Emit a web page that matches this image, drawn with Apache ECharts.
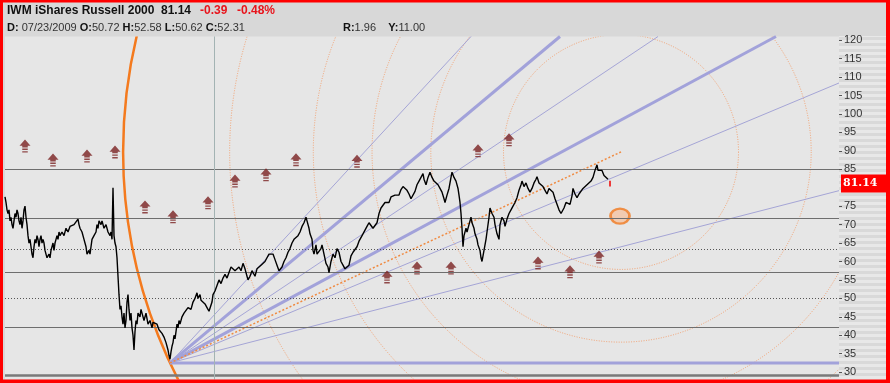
<!DOCTYPE html>
<html><head><meta charset="utf-8">
<script src="https://cdn.jsdelivr.net/npm/echarts@6/dist/echarts.min.js"></script>
<style>html,body{margin:0;padding:0;background:#fff}#c{width:890px;height:383px}</style>
</head><body><div id="c"></div><script>
// ---- data (x = bar index, y = price) ----
const price = [[0,77.5],[1,76],[2,74],[3,73],[4,74],[5,71],[6,72],[7,70],[8,69],[9,71],[10,73],[11,72],[12,74],[13,73],[14,71],[15,70],[16,72],[17,69],[18,71],[19,74],[20,75],[21,72],[22,70],[23,67],[24,65],[25,66],[26,64],[27,62],[28,61],[29,64],[30,66],[31,65],[32,67],[33,66],[34,64],[35,66],[36,67],[37,65],[38,66],[39,65],[40,63],[41,62],[42,61],[43,60.5],[44,62],[45,61],[46,63],[47,64],[48,65],[49,63],[50,65],[51,66],[52,67],[53,66],[54,68],[55,67],[57,68],[59,67],[61,69],[63,68],[65,69.5],[67,69],[69,70],[71,70.5],[73,71.5],[74,70],[75,69],[77,68],[79,66],[81,64],[82,62],[83,61.5],[84,63],[85,62],[86,64],[87,66],[89,67],[91,68],[92,70],[93,69],[94,71],[95,71.5],[96,70],[97,71],[99,69],[101,70],[103,68],[105,67],[106,68],[107,66],[108,80],[109,67],[110,65],[111,64],[112,61],
[113,56],[114,51],[115,47],[116,48],[117,45],[118,43],[119,46],[120,42],[121,44],[122,49],[123,51],[124,47],[125,44],[126,46],[127,42],[128,40],[129,36],[130,41],[131,44],[132,43],[133,46],[135,45],[136,47],[137,46],[139,44],[141,46],[142,44.5],[143,43],[145,44],[147,42],[148,43.5],[150,44],[152,43],[154,41.5],[156,42],[157,40.5],[159,39.5],[161,38],[162,37],[163,36],[164,34.5],[165,33.5],[166,35.5],[167,37],
[168,38],[169,40],[170,39],[171,41],[172,43],[173,42],[174,44],[175,43],[177,45],[179,46],[181,45.5],[183,47.5],[185,48],[186,47],[188,49],[190,50],[192,51.5],[193,50],[195,51],[196,49.5],[198,49],[200,48.5],[202,47.5],[204,46.5],[205,47],[207,49],[208,51],[210,52],[212,53.5],[214,55],[216,54],[218,55.5],[220,56.5],[222,55.5],[224,57],[226,58.5],[228,59],[230,57.5],[232,58],[234,58.5],[236,57.5],[238,59.5],[240,58],[242,56],[243,55],[245,56],[247,57.5],
[248,57],[250,56],[252,58],[254,57.5],[256,59],[258,58.5],[260,60],[262,61],[264,62],[266,61.5],[268,62],[270,60.5],[272,59],[274,57.5],[275,57],[277,58.5],[279,60],[281,61],[283,62.5],[285,63.5],[287,65],[289,66],[291,65.5],[293,67],[295,68],[297,69.5],[299,70.5],[301,72],[302,71],[304,69],[305,67.5],[307,66],[308,63],[309,62],[311,64.5],[312,62],[314,61.5],[316,63.5],[317,64.5],[319,62],[321,59.5],[323,58.5],[324,57],[326,60],[328,62],[330,61],[332,63.5],[334,62.5],[336,60],[338,59],[340,58],[342,57.5],[344,59],[346,61.5],[348,62.5],[350,63],[352,64],[354,65.5],[356,66],[358,67.5],[360,68],[362,69.5],[364,70.5],[366,70],[368,69],[370,68.5],[372,70.5],[374,73],[376,74.5],[378,75],[380,76],[382,76.5],[384,76],[386,77.5],[388,77],[390,78],[392,78.5],[394,78],[396,79.5],[398,80.3],[400,79.8],[402,79.3],[404,78.3],[406,77],[408,76.5],[410,79],[412,80.8],[414,81.8],[416,82.8],[418,83.8],[419,82.3],[421,80.8],[423,82.8],[425,84.2],[427,82.8],[429,81.8],[431,82.3],[433,80.8],[435,79.8],[437,78.8],[439,77],[440,76],[442,78],[444,79.8],[446,82.8],[447,84.2],[449,82.8],[451,81.8],[453,79.8],[454,78],[455,76],[456,73],[457,69],[458,64],[459,67],[461,69],[462,68],[464,70],[466,72],[467,70.5],[469,69],[470,67.5],[472,66],[473,64.5],[475,63],[476,61],[477,60],[479,63],[481,66],[482,68],[484,72],[485,74.5],[487,73],[489,72],[490,70],[492,67.5],[494,66],[495,70],[497,72],[499,71],[500,69.5],[502,71.5],[504,73],[506,74],[508,75],[510,76],[512,77.3],[514,79.3],[516,80.8],[517,81.8],[519,80.3],[521,81.3],[523,79.8],[525,78.8],[527,79.8],[529,81.3],[531,82.3],[532,83],[534,81.3],[536,81.8],[538,80.3],[540,79.3],[542,78.3],[544,79.8],[546,80.3],[548,78.8],[550,77],[552,75.5],[554,74],[556,73],[557,72.5],[559,74.5],[561,76],[563,76.3],[565,75.5],[567,77.8],[568,79.8],[570,78.3],[572,77.3],[574,78.3],[576,78.8],[578,79.8],[580,80.3],[582,80.8],[584,80.3],[586,81.8],[588,82.8],[590,84.7],[592,86.2],[593,84.7],[595,84.2],[597,84.7],[599,83.3],[601,83.3],[603,82.3]];
const lastBar = [[605,81.9],[605,80.3]];
const lastPrice = 81.14;
const yTicks = [30,35,40,45,50,55,60,65,70,75,85,90,95,100,105,110,115,120];
const levels = [85, 71.7, 63.3, 57.1, 50.0, 42.2, 29.1];
const levelKinds = ['solid','solid','dotted','solid','dotted','solid','heavy'];
const lowPoint = [165, 32.5];
const fanEnds = [[466,121],[555,121],[653,121],[771,121],[834,108.4],[834,79.2],[834,32.5]];
const fanHeavy = [false,true,false,true,false,false,true];
const circleCenter = [616, 89.7];
const fibRatios = [0.236,0.382,0.5,0.618,0.786,1];
const arrows = [[20,91.3],[48,87.5],[82,88.6],[110,89.7],[140,74.8],[168,72.1],[203,75.9],[230,81.8],[261,83.5],[291,87.6],[352,87.2],[382,55.8],[412,58.2],[446,58.2],[473,90.0],[504,93.0],[533,59.6],[565,57.2],[594,61.2]];
const marker = [615, 72.3];
const cursorT = 209;

// ---- chart ----
const chart = echarts.init(document.getElementById('c'), null, {renderer:'canvas'});
const FONT = '"Liberation Sans", Arial, sans-serif';
const arrowPath = 'path://M6 0 L12 5.5 L9 5.5 L9 7 L3 7 L3 5.5 L0 5.5 Z M3 8 L9 8 L9 9.2 L3 9.2 Z M3 10.3 L9 10.3 L9 11.5 L3 11.5 Z';

const levelStyles = {
  solid: {color:'#6e6e6e', width:1.2, type:'solid'},
  dotted:{color:'#555', width:1, type:[1,2]},
  heavy: {color:'#7a7a7a', width:2.5, type:'solid'}
};

const series = [];
series.push({
  type:'line', data:[[0,28]], showSymbol:false, lineStyle:{opacity:0}, z:1, silent:true,
  markLine:{silent:true, symbol:'none', animation:false, label:{show:false},
    data: levels.map((v,i)=>({yAxis:v, lineStyle:levelStyles[levelKinds[i]]}))
      .concat([{xAxis:cursorT, lineStyle:{color:'#a3b3b3', width:1, type:'solid'}}])
  }
});
series.push({
  type:'custom', clip:true, z:2, silent:true,
  data:[[circleCenter[0], circleCenter[1], lowPoint[0], lowPoint[1]]],
  renderItem:function(params, api){
    const c = api.coord([api.value(0), api.value(1)]);
    const p = api.coord([api.value(2), api.value(3)]);
    const R = Math.hypot(c[0]-p[0], c[1]-p[1]);
    return {type:'group', children: fibRatios.map(r => ({
      type:'circle', shape:{cx:c[0], cy:c[1], r:R*r},
      style: r===1 ? {fill:'none', stroke:'#f47a1e', lineWidth:2.5}
                   : {fill:'none', stroke:'#f2a070', lineWidth:1, lineDash:[1,1.5]}
    }))};
  }
});
fanEnds.forEach((e,i)=>{
  series.push({type:'line', data:[lowPoint, e], showSymbol:false, silent:true, z:3,
    lineStyle: fanHeavy[i] ? {color:'#a2a2da', width:3} : {color:'#a5a5d6', width:1}});
});
series.push({type:'line', data:[lowPoint, circleCenter], showSymbol:false, silent:true, z:3,
  lineStyle:{color:'#f08a40', width:1.5, type:[2,2]}});
series.push({type:'scatter', data:[marker], symbol:'circle', symbolSize:[19,15], z:4, silent:true,
  itemStyle:{color:'#f4c4a4', borderColor:'#f07a22', borderWidth:2.5}});
series.push({type:'line', data:price, showSymbol:false, silent:true, z:5,
  lineStyle:{color:'#000', width:1.4},
  markLine:{silent:true, symbol:'none', animation:false,
    lineStyle:{color:'rgba(0,0,0,0)', width:1, type:'solid'},
    label:{show:true, position:'end', distance:2, formatter:String(lastPrice),
      color:'#fff', backgroundColor:'#ff0000', fontWeight:'bold', fontSize:11,
      fontFamily:'"DejaVu Serif", serif', padding:[4,10,3,2]},
    data:[{yAxis:lastPrice}]}
});
series.push({type:'line', data:lastBar, showSymbol:false, silent:true, z:5,
  lineStyle:{color:'#e00', width:1.5}});
series.push({type:'scatter', data:arrows, symbol:arrowPath, symbolSize:[11,13], z:6, silent:true,
  itemStyle:{color:'#7b2222'}});

const graphic = [];
graphic.push({type:'rect', shape:{x:839, y:36, width:48, height:344}, style:{fill:'#e8e8e8'}, z:-2, silent:true});
for (let y=37; y<379; y+=6) {
  graphic.push({type:'rect', shape:{x:839, y:y, width:48, height:3}, style:{fill:'#d9d9d9'}, z:-1, silent:true});
}
const hdr = (x,y,text,font,fill)=>({type:'text', x:x, y:y, z:50, silent:true,
  style:{text:text, font:font, fill:fill, textVerticalAlign:'middle'}});
graphic.push(hdr(7,10.5,'IWM iShares Russell 2000','bold 12px '+FONT,'#111'));
graphic.push(hdr(161,10.5,'81.14','bold 12px '+FONT,'#111'));
graphic.push(hdr(200,10.5,'-0.39','bold 12px '+FONT,'#e8141c'));
graphic.push(hdr(237,10.5,'-0.48%','bold 12px '+FONT,'#e8141c'));
graphic.push({type:'text', x:7, y:28, z:50, silent:true, style:{
  text:'{b|D:} 07/23/2009 {b|O:}50.72 {b|H:}52.58 {b|L:}50.62 {b|C:}52.31',
  font:'11px '+FONT, fill:'#333', textVerticalAlign:'middle',
  rich:{b:{font:'bold 11px '+FONT, fill:'#111'}}}});
graphic.push({type:'text', x:343, y:28, z:50, silent:true, style:{
  text:'{b|R:}1.96    {b|Y:}11.00',
  font:'11px '+FONT, fill:'#333', textVerticalAlign:'middle',
  rich:{b:{font:'bold 11px '+FONT, fill:'#111'}}}});
// red frame
[[0,0,890,2.5],[0,0,3,383],[886,0,4,383],[0,379.5,890,4]].forEach(r=>{
  graphic.push({type:'rect', shape:{x:r[0],y:r[1],width:r[2],height:r[3]}, style:{fill:'#ff0000'}, z:100, silent:true});
});

chart.setOption({
  animation:false,
  backgroundColor:'#d8d8d8',
  grid:{left:5, right:51, top:36.5, bottom:3.5, show:true, backgroundColor:'#e6e6e6', borderWidth:0},
  xAxis:{type:'value', min:0, max:834, show:false},
  yAxis:{type:'value', position:'right', min:28, max:121,
    splitLine:{show:false}, axisLine:{show:false, onZero:false},
    axisTick:{show:true, length:3, lineStyle:{color:'#555'}, customValues:yTicks},
    axisLabel:{customValues:yTicks, margin:5, fontSize:11, color:'#333', fontFamily:FONT}},
  graphic: graphic,
  series: series
});
</script></body></html>
